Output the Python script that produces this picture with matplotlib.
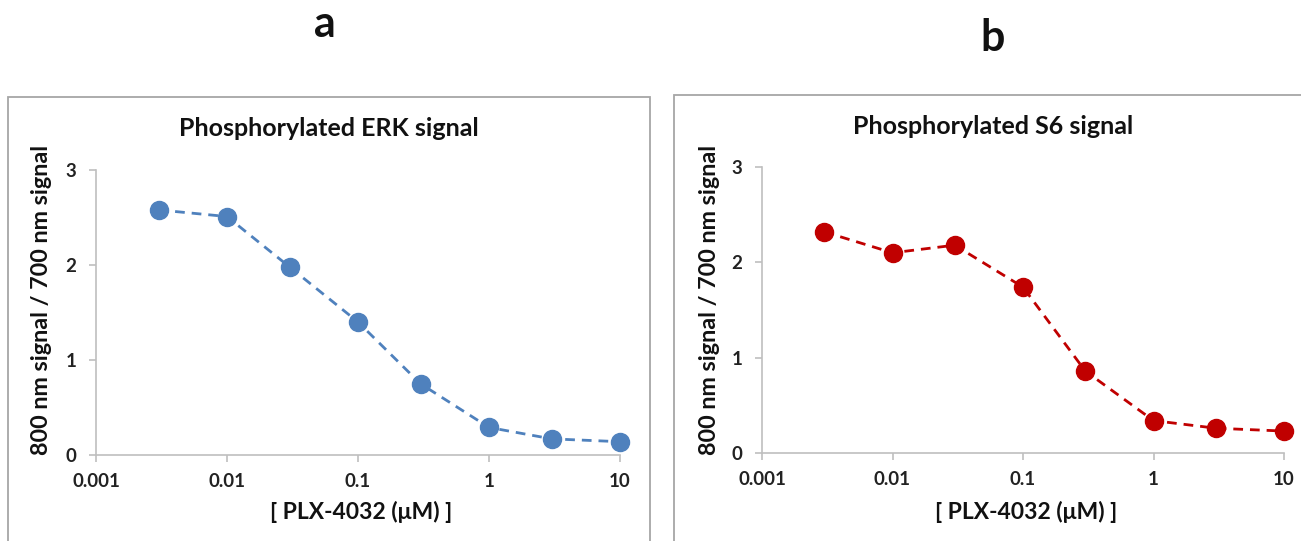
import matplotlib
matplotlib.use("Agg")
import matplotlib.pyplot as plt
from matplotlib.patches import Rectangle
from matplotlib.ticker import FixedLocator, FixedFormatter, NullLocator

plt.rcParams['font.family'] = ['Lato', 'DejaVu Sans']
plt.rcParams['font.weight'] = 'bold'

conc = [0.003, 0.01, 0.03, 0.1, 0.3, 1, 3, 10]
erk = [2.58, 2.51, 1.98, 1.40, 0.75, 0.29, 0.17, 0.14]
s6 = [2.32, 2.10, 2.18, 1.74, 0.86, 0.34, 0.26, 0.23]
xticks = [0.001, 0.01, 0.1, 1, 10]
xticklabels = ['0.001', '0.01', '0.1', '1', '10']
yticks = [0, 1, 2, 3]
titles = ['Phosphorylated ERK signal', 'Phosphorylated S6 signal']
panel_letters = ['a', 'b']
ylabel = '800 nm signal / 700 nm signal'
xlabel = '[ PLX-4032 (\u03bcM) ]'
colors = ['#4f81bd', '#c00000']

W, H = 1301, 541
fig = plt.figure(figsize=(W / 100, H / 100), dpi=100)

# panel borders
fig.add_artist(Rectangle((8 / W, -0.05), (650 - 8) / W, 1 - 97 / H + 0.05,
                         transform=fig.transFigure, fill=False,
                         edgecolor='#a6a6a6', lw=1.3))
fig.add_artist(Rectangle((674 / W, -0.05), 0.6, 1 - 95 / H + 0.05,
                         transform=fig.transFigure, fill=False,
                         edgecolor='#a6a6a6', lw=1.3))

axes_px = [(96, 620, 455, 170), (762, 1284, 453, 167)]
series = [erk, s6]
title_pos = [(329, 129), (993, 127)]
letter_pos = [(325, 24), (993, 38)]
ylabel_x = [42, 710]
xlabel_y = [512, 512]

for i in range(2):
    l, r, b, t = axes_px[i]
    ax = fig.add_axes([l / W, 1 - b / H, (r - l) / W, (b - t) / H])
    ax.plot(conc, series[i], linestyle=(0, (3.5, 2.5)), color=colors[i], lw=2,
            marker='o', markersize=13, markeredgecolor=colors[i],
            markerfacecolor=colors[i], clip_on=False)
    ax.set_xscale('log')
    ax.set_xlim(0.001, 10)
    ax.set_ylim(0, 3)
    ax.xaxis.set_major_locator(FixedLocator(xticks))
    ax.xaxis.set_major_formatter(FixedFormatter(xticklabels))
    ax.xaxis.set_minor_locator(NullLocator())
    ax.set_yticks(yticks)
    ax.set_yticklabels([str(v) for v in yticks])
    for s in ['top', 'right']:
        ax.spines[s].set_visible(False)
    for s in ['left', 'bottom']:
        ax.spines[s].set_color('#bfbfbf')
        ax.spines[s].set_linewidth(1.2)
    ax.tick_params(axis='both', color='#bfbfbf', length=5, width=1.2,
                   labelsize=13.5, labelcolor='#222222')
    ax.tick_params(axis='x', pad=8)
    ax.tick_params(axis='y', pad=9)
    for lab in ax.get_xticklabels() + ax.get_yticklabels():
        lab.set_fontweight('bold')
    ax.set_facecolor('none')

    fig.text(title_pos[i][0] / W, 1 - title_pos[i][1] / H, titles[i],
             ha='center', va='center', fontsize=18, fontweight='bold', color='#111111')
    fig.text(letter_pos[i][0] / W, 1 - letter_pos[i][1] / H, panel_letters[i],
             ha='center', va='center', fontsize=31, fontweight='bold', color='#111111')
    fig.text(ylabel_x[i] / W, 1 - 300 / H, ylabel, rotation=90,
             ha='center', va='center', fontsize=16.8, fontweight='bold', color='#111111')
    cx = (l + r) / 2 + 3
    fig.text(cx / W, 1 - xlabel_y[i] / H, xlabel,
             ha='center', va='center', fontsize=16.5, fontweight='bold', color='#111111')

fig.savefig('out.png', dpi=100)
